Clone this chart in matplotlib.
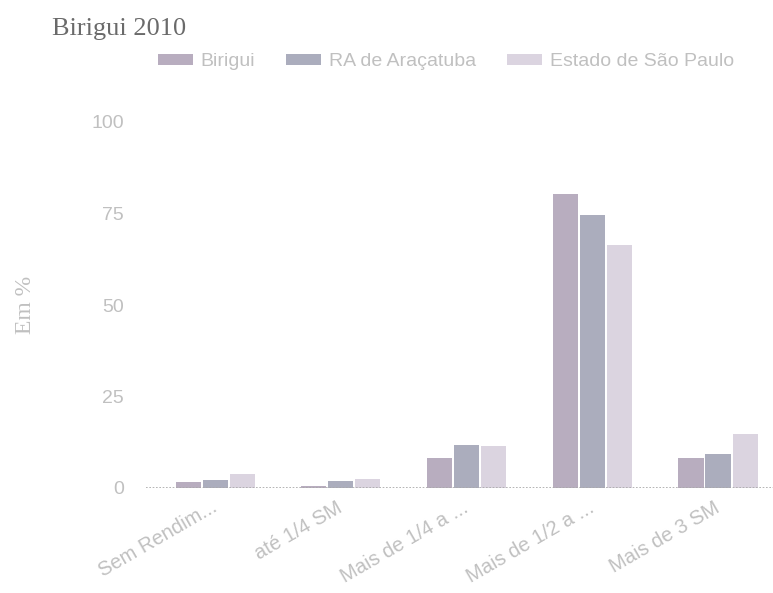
import numpy as np
import matplotlib
matplotlib.use("Agg")
import matplotlib.pyplot as plt

# data (percent of households)
categories = ["Sem Rendim...", "até 1/4 SM", "Mais de 1/4 a ...", "Mais de 1/2 a ...", "Mais de 3 SM"]
series_names = ["Birigui", "RA de Araçatuba", "Estado de São Paulo"]
birigui = [1.7, 0.5, 8.2, 80.4, 8.2]
ra_aracatuba = [2.2, 1.9, 11.7, 74.7, 9.3]
estado_sp = [3.8, 2.5, 11.4, 66.5, 14.7]
yticks = [0, 25, 50, 75, 100]

colors = ["#b8adbf", "#abadbd", "#dbd4e0"]
text_color = "#c0c0c0"

fig = plt.figure(figsize=(7.73, 5.93), dpi=100)
ax = fig.add_axes([146 / 773, 105 / 593, 627 / 773, 366 / 593])

x = np.arange(len(categories))
width = 0.2
offsets = [-0.215, 0.0, 0.215]
for vals, off, col, name in zip([birigui, ra_aracatuba, estado_sp], offsets, colors, series_names):
    ax.bar(x + off, vals, width=width, color=col, label=name, zorder=2)

ax.set_xlim(-0.55, 4.437)
ax.set_ylim(0, 100)
ax.axhline(0, color="#a8a8a8", lw=1.2, ls=(0, (1, 1)), zorder=3)
for s in ax.spines.values():
    s.set_visible(False)

ax.set_yticks(yticks)
ax.set_yticklabels([str(v) for v in yticks], fontsize=14, color=text_color,
                   family="Liberation Sans")
ax.tick_params(axis="y", length=0, pad=16)

ax.set_xticks(x)
ax.set_xticklabels(categories, rotation=30, ha="right", va="center",
                   rotation_mode="anchor", fontsize=14.5, color=text_color,
                   family="Liberation Sans")
ax.tick_params(axis="x", length=0, pad=13)

ax.set_ylabel("Em %", fontsize=17, color=text_color, family="Liberation Serif", labelpad=40)

fig.text(52 / 773, 1 - 29 / 593, "Birigui 2010", fontsize=19, color="#6a6a6a",
         family="Liberation Serif", va="center", ha="left")

leg = fig.legend(loc="center left", bbox_to_anchor=(140 / 773, 1 - 62 / 593), ncol=3,
                 frameon=False, handlelength=1.8, handleheight=0.55,
                 columnspacing=1.6, handletextpad=0.4,
                 prop={"family": "Liberation Sans", "size": 14})
for t in leg.get_texts():
    t.set_color(text_color)

fig.savefig("out.png", dpi=100)
